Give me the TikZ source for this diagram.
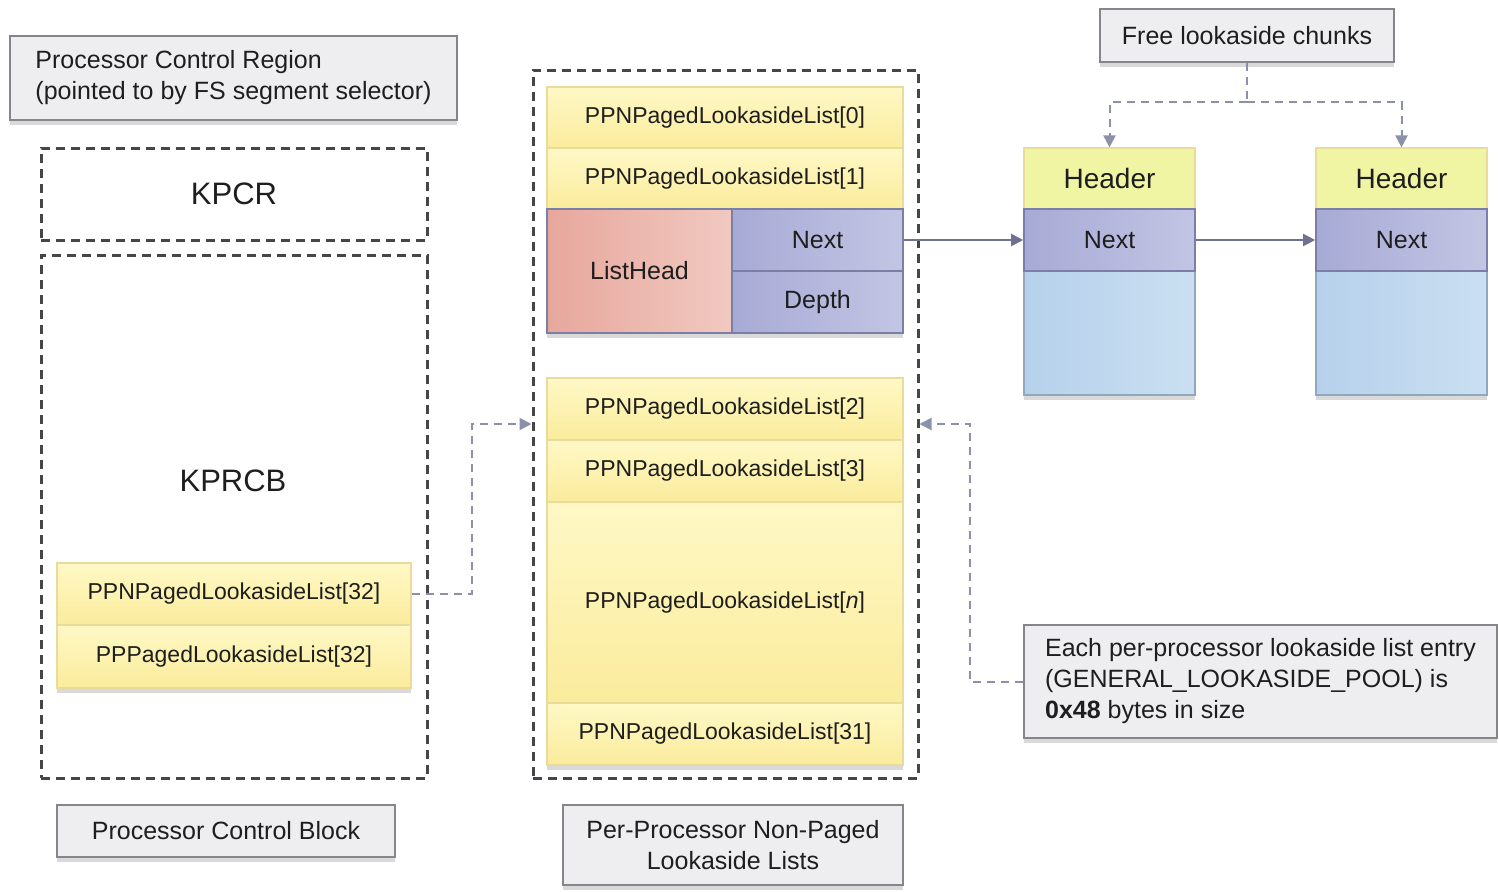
\documentclass[tikz,border=0pt]{standalone}
\usepackage{fontspec}
\setmainfont{Liberation Sans}
\usetikzlibrary{shadows,arrows.meta}

\definecolor{boxgray}{HTML}{EEEEF1}
\definecolor{edgegray}{HTML}{85858C}
\definecolor{dashgray}{HTML}{45454A}
\definecolor{txt}{HTML}{1E1E1E}
\definecolor{ytop}{HTML}{FFF8C6}
\definecolor{ybot}{HTML}{FAEC9C}
\definecolor{yedge}{HTML}{E9DC9A}
\definecolor{rleft}{HTML}{E7A79C}
\definecolor{rright}{HTML}{F1C9C1}
\definecolor{bleft}{HTML}{A7AAD5}
\definecolor{bright}{HTML}{C3C5E4}
\definecolor{bedge}{HTML}{7B7FA6}
\definecolor{hdr}{HTML}{EFF5A2}
\definecolor{cleft}{HTML}{B6D1EC}
\definecolor{cright}{HTML}{CADFF1}
\definecolor{conn}{HTML}{6E7290}
\definecolor{dconn}{HTML}{8C90A8}

\tikzset{
  % a node spanning the pixel box x1/y1/x2/y2
  box/.style args={#1/#2/#3/#4}{at={({(#1+#3)/2},{(#2+#4)/2})}, anchor=center,
    minimum width={(#3-#1)*0.5pt}, minimum height={(#4-#2)*0.5pt}, inner sep=0pt},
  shd/.style={drop shadow={shadow xshift=0pt, shadow yshift=-2.5pt, opacity=0.3}},
  lbl/.style={draw=edgegray, fill=boxgray, line width=0.8pt, shd,
    text=txt, font=\fontsize{12.5}{15.5}\selectfont},
  dbox/.style={draw=dashgray, line width=1.5pt, dash pattern=on 4.5pt off 3pt,
    text=txt, font=\fontsize{15.5}{18}\selectfont},
  grp/.style={fill=white, shd},
  ycell/.style={draw=yedge, line width=0.6pt, top color=ytop, bottom color=ybot,
    text=txt, font=\fontsize{11.5}{14}\selectfont},
  rcell/.style={draw=bedge, line width=0.6pt, left color=rleft, right color=rright,
    text=txt, font=\fontsize{12.5}{15}\selectfont},
  bcell/.style={draw=bedge, line width=0.8pt, left color=bleft, right color=bright,
    text=txt, font=\fontsize{12.5}{15}\selectfont},
  hcell/.style={draw=yedge, line width=0.6pt, fill=hdr,
    text=txt, font=\fontsize{14}{16}\selectfont},
  ccell/.style={draw=cleft!80!black, line width=0.6pt, left color=cleft, right color=cright},
  link/.style={draw=conn, line width=1pt, -{Triangle[length=6pt,width=6pt]}},
  dlink/.style={draw=dconn, line width=1pt, dash pattern=on 4pt off 3pt,
    -{Triangle[length=6pt,width=6pt]}}
}

\begin{document}
\begin{tikzpicture}[x=0.5pt,y=-0.5pt]
\useasboundingbox (0,0) rectangle (1499,891);

% processor control region / block
\node[lbl, align=left, box=10/36/457/120] (pcr)
  {Processor Control Region\\(pointed to by FS segment selector)};
\node[dbox, box=41/148/427/240] (kpcr) {KPCR};
\node[dbox, box=41/255/427/778] (kprcb) {};
\node[text=txt, font=\fontsize{15.5}{18}\selectfont] (kprcbname) at (233,481) {KPRCB};
\node[grp, box=57/563/411/688] (kpgrp) {};
\node[ycell, box=57/563/411/625] (kp32n) {PPNPagedLookasideList[32]};
\node[ycell, box=57/625/411/688] (kp32p) {PPPagedLookasideList[32]};
\node[lbl, box=57/805/395/857] (pcb) {Processor Control Block};

% per-processor lists
\node[dbox, box=533/70/918/778] (ppnl) {};
\node[grp, box=547/87/903/333] (topgrp) {};
\node[ycell, box=547/87/903/148] (l0) {PPNPagedLookasideList[0]};
\node[ycell, box=547/148/903/209] (l1) {PPNPagedLookasideList[1]};
\node[rcell, box=547/209/732/333] (lh) {ListHead};
\node[bcell, box=732/209/903/271] (lhnext) {Next};
\node[bcell, box=732/271/903/333] (lhdepth) {Depth};
\node[grp, box=547/378/903/765] (botgrp) {};
\node[ycell, box=547/378/903/440] (l2) {PPNPagedLookasideList[2]};
\node[ycell, box=547/440/903/502] (l3) {PPNPagedLookasideList[3]};
\node[ycell, box=547/502/903/703] (ln) {PPNPagedLookasideList[\textit{n}]};
\node[ycell, box=547/703/903/765] (l31) {PPNPagedLookasideList[31]};
\node[lbl, align=center, box=563/805/903/885] (ppnlname)
  {Per-Processor Non-Paged\\Lookaside Lists};

% free chunks
\node[lbl, box=1100/9/1394/62] (free) {Free lookaside chunks};
\foreach \x/\n in {1024/c1,1316/c2}{
  \node[grp, box=\x/148/\x+171/395] (\n) {};
  \node[hcell, box=\x/148/\x+171/209] (\n hdr) {Header};
  \node[ccell, box=\x/271/\x+171/395] (\n body) {};
  \node[bcell, box=\x/209/\x+171/271] (\n next) {Next};
}

\node[lbl, align=left, box=1024/625/1497/738] (note)
  {Each per-processor lookaside list entry\\(GENERAL\_LOOKASIDE\_POOL) is\\\textbf{0x48} bytes in size};

% connectors
\coordinate (fork) at (1247,102);
\coordinate (jl) at (472,424);
\coordinate (jr) at (970,424);
\draw[link] (lhnext.east) -- (c1next.west);
\draw[link] (c1next.east) -- (c2next.west);
\draw[dlink, -] (free.south) -- (fork);
\draw[dlink] (fork) -| (c1hdr.north);
\draw[dlink] (fork) -| (c2hdr.north);
\draw[dlink] (kp32n.east) -| (jl) -- (jl -| ppnl.west);
\draw[dlink] (note.west) -| (jr) -- (jr -| ppnl.east);
\end{tikzpicture}
\end{document}
